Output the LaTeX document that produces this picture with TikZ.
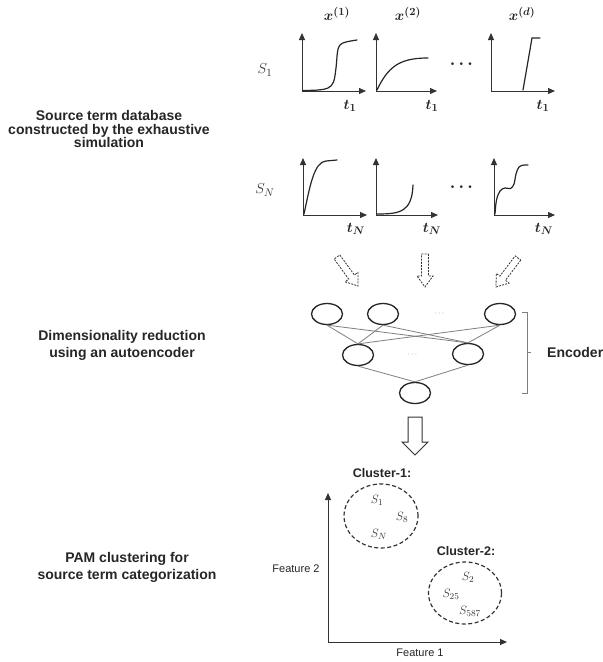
\documentclass[tikz,border=0pt]{standalone}
\usepackage{fontspec}
\setmainfont{Liberation Sans}
\usepackage{amsmath}
\usepackage{bm}
\usetikzlibrary{arrows.meta,calc,shapes.geometric}
\definecolor{ink}{HTML}{262626}
\definecolor{axisc}{HTML}{333333}
\definecolor{slab}{HTML}{333333}
\definecolor{netl}{HTML}{7F7F7F}
\newcommand\hollowarr[6]{%
  \coordinate (neck) at ($(#3)!#6!(#2)$);
  \draw[#1] ($(#2)!#4!90:(#3)$) -- ($(neck)!#4!90:(#3)$) -- ($(neck)!#5!90:(#3)$)
    -- (#3) -- ($(neck)!#5!-90:(#3)$) -- ($(neck)!#4!-90:(#3)$) -- ($(#2)!#4!-90:(#3)$) -- cycle;}
\tikzset{
  steptitle/.style={font=\fontsize{14}{13.5}\selectfont\bfseries, text=ink, align=center, inner sep=0pt},
  mathlab/.style={font=\fontsize{15}{17}\selectfont, text=ink, inner sep=0pt},
  slabel/.style={font=\fontsize{15}{17}\selectfont, text=slab, inner sep=0pt},
  clab/.style={font=\fontsize{12.5}{14}\selectfont, text=slab, inner sep=0pt},
  plotaxis/.style={draw=axisc, line width=1pt, {Triangle[width=6pt,length=7pt]}-{Triangle[width=6pt,length=7pt]}},
  curve/.style={draw=ink, line width=1.2pt, line cap=round},
  neuron/.style={ellipse, draw=ink, line width=1.3pt, minimum width=31pt, minimum height=21pt, inner sep=0pt},
  netline/.style={draw=netl, line width=0.8pt},
  dots/.style={font=\fontsize{8}{9}\selectfont, text=netl, inner sep=0pt},
  bigdots/.style={font=\fontsize{18}{20}\selectfont, text=ink, inner sep=0pt},
  dasharr/.style={draw=axisc, line width=0.8pt, dash pattern=on 2pt off 1.2pt},
  solidarr/.style={draw=axisc, line width=1pt, line join=miter},
  clusterring/.style={ellipse, draw=axisc, line width=1.2pt, dash pattern=on 4pt off 2.5pt, inner sep=0pt},
  clustertitle/.style={font=\fontsize{12.5}{14}\selectfont\bfseries, text=ink, inner sep=0pt},
  featlab/.style={font=\fontsize{11}{13}\selectfont, text=ink, inner sep=0pt},
}
\begin{document}
\begin{tikzpicture}[x=1pt,y=-1pt]
\useasboundingbox (0,0) rectangle (603,662);
\fill[white] (0,0) rectangle (603,662);

% left titles
\node[steptitle] (title1) at (109,129) {Source term database\\constructed by the exhaustive\\simulation};
\node[steptitle, font=\fontsize{14}{17}\selectfont\bfseries] (title2) at (122,345) {Dimensionality reduction\\using an autoencoder};
\node[steptitle, font=\fontsize{14}{17}\selectfont\bfseries] (title3) at (127,567) {PAM clustering for\\source term categorization};

% column headers
\node[mathlab] (h1) at (337,14) {$\bm{x^{(1)}}$};
\node[mathlab] (h2) at (408,14) {$\bm{x^{(2)}}$};
\node[mathlab] (hd) at (522,14) {$\bm{x^{(d)}}$};

% row labels
\node[slabel] (s1) at (265,70) {$S_1$};
\node[slabel] (sN) at (265,190) {$S_N$};

% row 1 plots
\draw[plotaxis] (302,33) -- (302,91) -- (366,91);
\draw[plotaxis] (376,33) -- (376,91) -- (437,91);
\draw[plotaxis] (491,33) -- (491,91) -- (555,91);
\draw[curve] plot[smooth, tension=0.6] coordinates {(303,90.5) (318,90) (328,88) (333.5,82) (336,68) (337.5,52) (340,45) (346,42) (357,40)};
\draw[curve] (377,90) .. controls (388,67) and (399,58) .. (428,58);
\draw[curve] (523,90) -- (532,38) -- (540,38);
\node[mathlab] (t11) at (350,106) {$\bm{t_1}$};
\node[mathlab] (t12) at (432,106) {$\bm{t_1}$};
\node[mathlab] (t13) at (543,106) {$\bm{t_1}$};
\node[bigdots] (dots1) at (463,64) {$\bm{\cdots}$};

% row N plots
\draw[plotaxis] (303,158) -- (303,215) -- (367,215);
\draw[plotaxis] (376,158) -- (376,215) -- (438,215);
\draw[plotaxis] (494,158) -- (494,215) -- (555,215);
\draw[curve] (304,214) .. controls (310,186) and (314,162) .. (326,161) -- (337,160);
\draw[curve] (377,214) .. controls (400,214) and (412,212) .. (413,185);
\draw[curve] plot[smooth, tension=0.6] coordinates {(495,214) (496.5,200) (500,191) (505,188) (510.5,188.5) (514,184) (516,174) (519,167) (524,165) (528,165)};
\node[mathlab] (tN1) at (356,229) {$\bm{t_N}$};
\node[mathlab] (tN2) at (432,229) {$\bm{t_N}$};
\node[mathlab] (tN3) at (544,229) {$\bm{t_N}$};
\node[bigdots] (dots2) at (463,187) {$\bm{\cdots}$};

% dashed hollow arrows
\coordinate (a1s) at (337,257); \coordinate (a1e) at (358,286);
\coordinate (a2s) at (425,254); \coordinate (a2e) at (425,287);
\coordinate (a3s) at (518,258); \coordinate (a3e) at (496,287);
\hollowarr{dasharr}{a1s}{a1e}{3.5pt}{8pt}{11pt}
\hollowarr{dasharr}{a2s}{a2e}{3.5pt}{8pt}{11pt}
\hollowarr{dasharr}{a3s}{a3e}{3.5pt}{8pt}{11pt}

% encoder network
\node[neuron] (n1) at (327,314) {};
\node[neuron] (n2) at (383,314) {};
\node[neuron] (n3) at (500,314) {};
\node[neuron] (m1) at (358,355) {};
\node[neuron] (m2) at (468,354) {};
\node[neuron] (b1) at (415,393) {};
\node[dots] (ndots) at (440,314) {$\cdots$};
\node[dots] (mdots) at (413,355) {$\cdots$};
\foreach \u in {n1,n2,n3}{
  \draw[netline] (\u.south) -- (m1.north);
  \draw[netline] (\u.south) -- (m2.north);
}
\draw[netline] (m1.south) -- (b1.north);
\draw[netline] (m2.south) -- (b1.north);

% bracket and label
\draw[draw=netl, line width=0.9pt] (522,312) -- (527,312) -- (527,393) -- (522,393);
\draw[draw=netl, line width=0.9pt] (527,352.5) -- (531,352.5);
\node[font=\fontsize{14}{16}\selectfont\bfseries, text=ink, anchor=west, inner sep=0pt] (enc) at (547,352) {Encoder};

% big arrow
\coordinate (bas) at (415,417); \coordinate (bae) at (415,455);
\hollowarr{solidarr}{bas}{bae}{7pt}{13pt}{13pt}

% cluster plot
\draw[plotaxis] (328,493) -- (328,642) -- (507,642);
\node[featlab] (f2) at (296,569) {Feature 2};
\node[featlab] (f1) at (420,653) {Feature 1};
\node[clustertitle] (c1t) at (382,473) {Cluster-1:};
\node[clustertitle] (c2t) at (466,551) {Cluster-2:};
\node[clusterring, minimum width=74pt, minimum height=64pt] (c1) at (381,516) {};
\node[clusterring, minimum width=73pt, minimum height=62pt] (c2) at (465,593) {};
\node[clab] (cs1) at (377,500) {$S_1$};
\node[clab] (cs8) at (402,517) {$S_8$};
\node[clab] (csN) at (379,534) {$S_N$};
\node[clab] (cs2) at (468,577) {$S_2$};
\node[clab] (cs25) at (451,594) {$S_{25}$};
\node[clab] (cs587) at (470,611) {$S_{587}$};
\end{tikzpicture}
\end{document}
